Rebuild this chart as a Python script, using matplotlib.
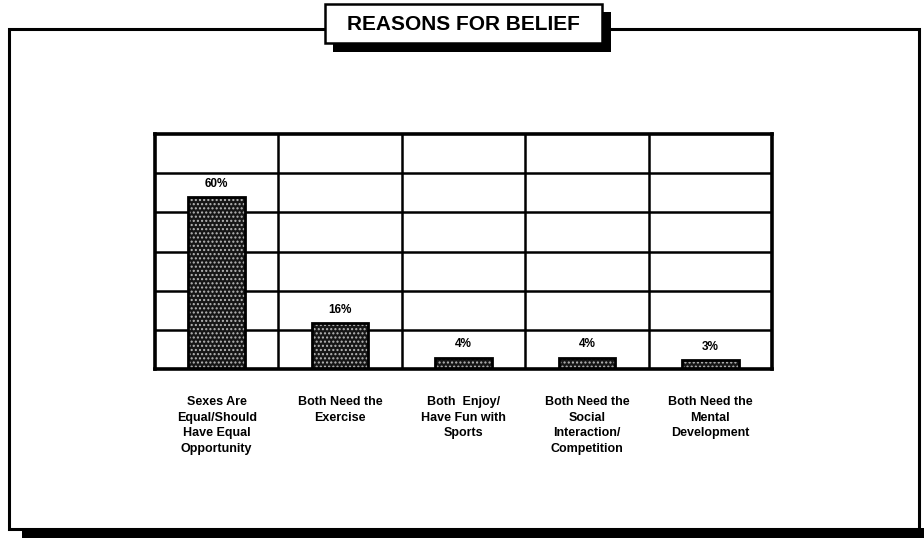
import numpy as np
import matplotlib.pyplot as plt
from matplotlib.patches import Rectangle

# Survey data
categories = [
    "Sexes Are\nEqual/Should\nHave Equal\nOpportunity",
    "Both Need the\nExercise",
    "Both  Enjoy/\nHave Fun with\nSports",
    "Both Need the\nSocial\nInteraction/\nCompetition",
    "Both Need the\nMental\nDevelopment",
]
values = [60, 16, 4, 4, 3]
value_labels = ["60%", "16%", "4%", "4%", "3%"]
title = "REASONS FOR BELIEF"

plt.rcParams['font.family'] = ['Liberation Sans', 'DejaVu Sans']
plt.rcParams['hatch.linewidth'] = 1.0

W, H = 924, 538
fig = plt.figure(figsize=(W / 100, H / 100), dpi=100)


def fx(x):
    return x / W


def fy(y):
    return 1 - y / H


def frect(x0, y0, x1, y1, **kw):
    """Rectangle in pixel coordinates (top-left origin) on the figure."""
    r = Rectangle((fx(x0), fy(y1)), fx(x1) - fx(x0), fy(y0) - fy(y1),
                  transform=fig.transFigure, **kw)
    fig.add_artist(r)
    return r


# Outer frame with drop shadow along the bottom
frect(22, 528, 930, 540, facecolor='black', edgecolor='none', zorder=1)
frect(9, 29, 919, 529, fill=False, edgecolor='black', linewidth=2.2, zorder=2)

# Title box with shadow
frect(333, 12, 611, 52, facecolor='black', edgecolor='none', zorder=5)
frect(325, 4, 602, 43, facecolor='white', edgecolor='black', linewidth=1.8, zorder=6)
fig.text(fx(463.5), fy(24), title, ha='center', va='center', fontsize=15,
         fontweight='bold', zorder=7)

# Plot area
ax = fig.add_axes([fx(155), fy(369), fx(772) - fx(155), fy(134) - fy(369)])
ymax = 82
ax.set_xlim(-0.5, len(values) - 0.5)
ax.set_ylim(0, ymax)
ax.set_xticks([])
ax.set_yticks([])
for s in ax.spines.values():
    s.set_linewidth(2.6)
    s.set_color('black')

for k in range(1, 6):
    ax.axhline(ymax * k / 6, color='black', linewidth=1.8, zorder=1)
for k in range(len(values) - 1):
    ax.axvline(k + 0.5, color='black', linewidth=1.8, zorder=1)

x = np.arange(len(values))
bw = 0.46
ax.bar(x, values, width=bw, color='#161616', edgecolor='#b8b8b8',
       hatch='....', linewidth=0, zorder=2)
ax.bar(x, values, width=bw, fill=False, edgecolor='black', linewidth=2.0, zorder=3)

for xi, v, lbl in zip(x, values, value_labels):
    ax.annotate(lbl, (xi, v), xytext=(0, 9.5), textcoords='offset points',
                ha='center', va='center', fontsize=8.5, fontweight='bold', zorder=4)

for xi, cat in zip(x, categories):
    ax.text(xi, -0.115, cat, transform=ax.get_xaxis_transform(),
            ha='center', va='top', fontsize=9, fontweight='bold',
            linespacing=1.4, multialignment='center')

fig.savefig('out.png', dpi=100)
